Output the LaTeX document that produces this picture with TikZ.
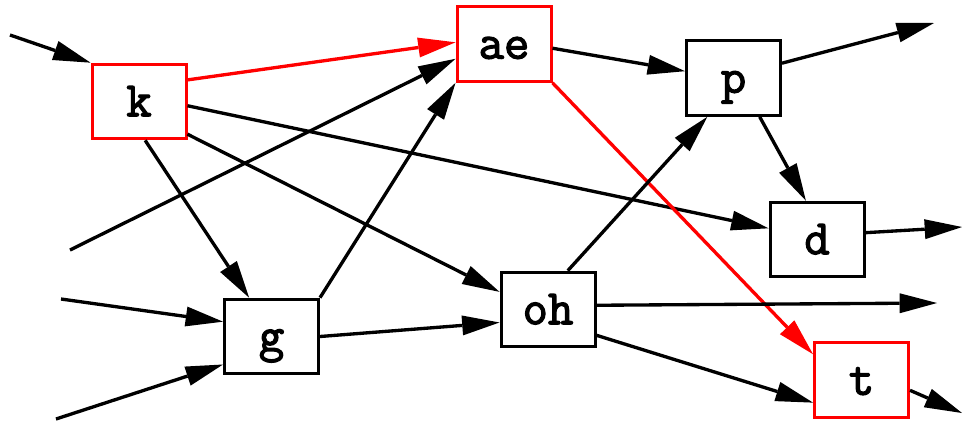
\documentclass[tikz,border=0pt]{standalone}
\usepackage{fontspec}
\newfontfamily\boxfont{Latin Modern Mono}[FakeBold=2.5]
\usetikzlibrary{arrows.meta}
\begin{document}
\begin{tikzpicture}[x=0.75pt,y=-0.75pt,
  box/.style={draw,line width=2.25pt,minimum width=70.5pt,minimum height=56pt,inner sep=0pt,
    font=\boxfont\fontsize{37}{42}\selectfont,text height=22pt,text depth=0pt},
  redbox/.style={box,draw=red},
  edge/.style={line width=2.5pt,-{Triangle[length=28pt,width=15pt,line width=0pt]}},
  rededge/.style={edge,red}]
\useasboundingbox (0,0) rectangle (962,422);
\node[redbox] (k)  at (139,101.5) {k};
\node[redbox] (ae) at (504,44) {ae};
\node[box]    (p)  at (733.5,78) {p};
\node[box]    (d)  at (817,239.5) {d};
\node[redbox] (t)  at (861.5,380) {t};
\node[box]    (g)  at (271.5,336.5) {g};
\node[box]    (oh) at (548,309.5) {oh};
\coordinate (ink)  at (10,35);
\coordinate (inae) at (70,250);
\coordinate (ing1) at (61,299);
\coordinate (ing2) at (56,419);
\coordinate (outp) at (934,23);
\coordinate (outoh) at (937,303);
\coordinate (outd) at (962,227);
\coordinate (outt) at (962,413);
\draw[edge] (ink) -- (k.north west);
\draw[rededge] (k.24) -- (ae.178);
\draw[edge] (k.-5) -- (d.167);
\draw[edge] (k.-34) -- (oh.160);
\draw[edge] (k.-81) -- (g.120);
\draw[edge] (inae) -- (ae.197);
\draw[edge] (ing1) -- (g.163);
\draw[edge] (ing2) -- (g.210);
\draw[edge] (g.north east) -- (ae.south west);
\draw[edge] (g.east) -- (oh.195);
\draw[edge] (ae.-5) -- (p.172);
\draw[rededge] (ae.south east) -- (t.152);
\draw[edge] (p.17) -- (outp);
\draw[edge] (p.-56) -- (d.106);
\draw[edge] (oh.63) -- (p.-124);
\draw[edge] (oh.5) -- (outoh);
\draw[edge] (oh.-28) -- (t.205);
\draw[edge] (d.8) -- (outd);
\draw[edge] (t.-12) -- (outt);
\end{tikzpicture}
\end{document}
